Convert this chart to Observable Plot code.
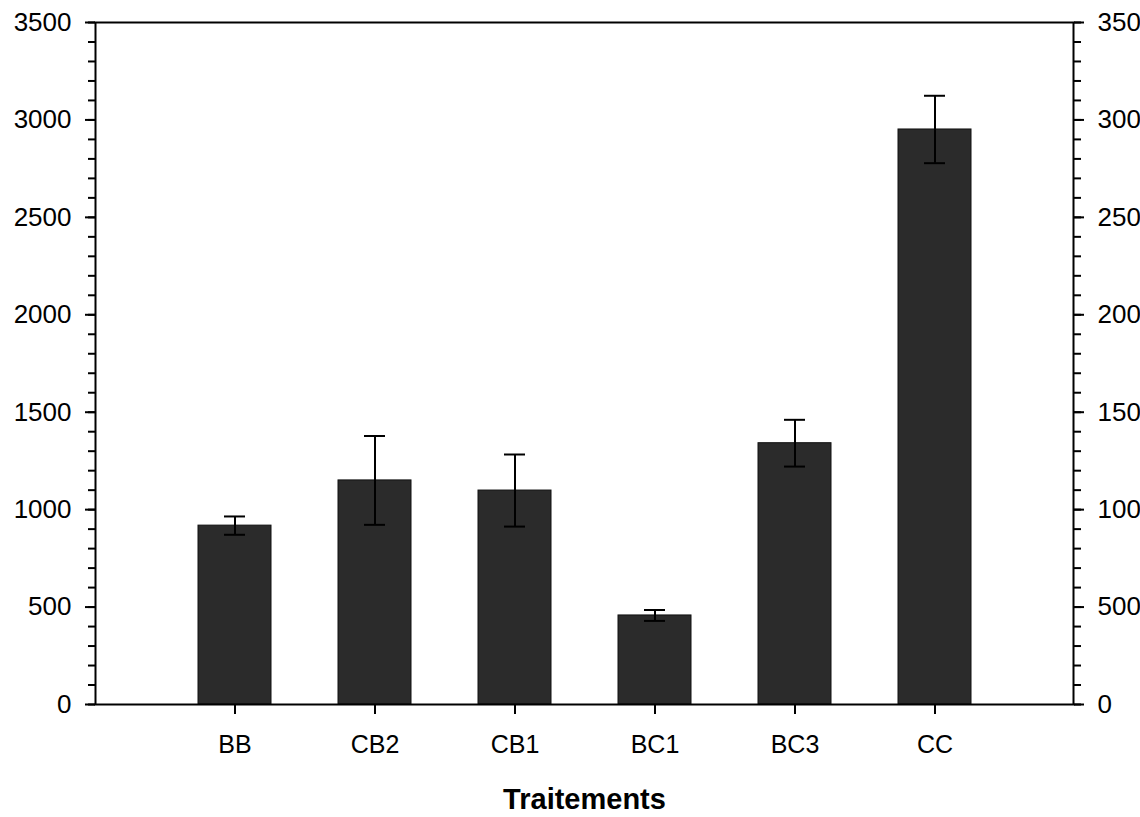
<!DOCTYPE html>
<html>
<head>
<meta charset="utf-8">
<script src="https://cdn.jsdelivr.net/npm/d3@7"></script>
<script src="https://cdn.jsdelivr.net/npm/@observablehq/plot@0.6"></script>
<style>
  html, body { margin: 0; padding: 0; background: #ffffff; overflow: hidden; }
  #chart svg { display: block; }
</style>
</head>
<body>
<div id="chart"></div>
<script>
const categories = ["BB", "CB2", "CB1", "BC1", "BC3", "CC"];
const means = [918, 1150, 1098, 457, 1341, 2951];
const errors = [47, 228, 185, 28, 120, 173];
const majorTicks = [0, 500, 1000, 1500, 2000, 2500, 3000, 3500];
const minorTicks = d3.range(0, 3501, 100);
const xTitle = "Traitements";

const data = categories.map((c, i) => ({cat: c, v: means[i], e: errors[i]}));

const font = "'Liberation Sans', Arial, Helvetica, sans-serif";

const chart = Plot.plot({
  width: 1140,
  height: 817,
  marginLeft: 95,
  marginRight: 67,
  marginTop: 22,
  marginBottom: 113,
  style: {fontFamily: font, background: "#ffffff", color: "#000", overflow: "hidden"},
  x: {domain: categories, paddingInner: 0.48, paddingOuter: 0.73, label: null},
  y: {domain: [0, 3500], label: null},
  marks: [
    Plot.barY(data, {x: "cat", y: "v", fill: "#2b2b2b", stroke: "#111", strokeWidth: 1}),
    Plot.ruleX(data, {x: "cat", y1: d => d.v - d.e, y2: d => d.v + d.e, stroke: "#000", strokeWidth: 2}),
    Plot.tickY(data, {x: "cat", y: d => d.v + d.e, stroke: "#000", strokeWidth: 2, inset: 26}),
    Plot.tickY(data, {x: "cat", y: d => d.v - d.e, stroke: "#000", strokeWidth: 2, inset: 26}),
    Plot.axisY({ticks: minorTicks, tickSize: 7, tickFormat: () => "", strokeWidth: 2, anchor: "left", label: null}),
    Plot.axisY({ticks: minorTicks, tickSize: 7, tickFormat: () => "", strokeWidth: 2, anchor: "right", label: null}),
    Plot.axisY({ticks: majorTicks, tickSize: 10, tickPadding: 14, fontSize: 26, tickFormat: d => String(d), strokeWidth: 2, anchor: "left", label: null}),
    Plot.axisY({ticks: majorTicks, tickSize: 10, tickPadding: 14, fontSize: 26, tickFormat: d => String(d), strokeWidth: 2, anchor: "right", label: null}),
    Plot.axisX({tickSize: 10, tickPadding: 21, fontSize: 25, strokeWidth: 2, label: null}),
    Plot.frame({stroke: "#000", strokeWidth: 2}),
    Plot.text([xTitle], {text: d => d, frameAnchor: "bottom", dy: 104, fontSize: 29, fontWeight: "bold", fill: "#000"})
  ]
});

document.getElementById("chart").appendChild(chart);
</script>
</body>
</html>
